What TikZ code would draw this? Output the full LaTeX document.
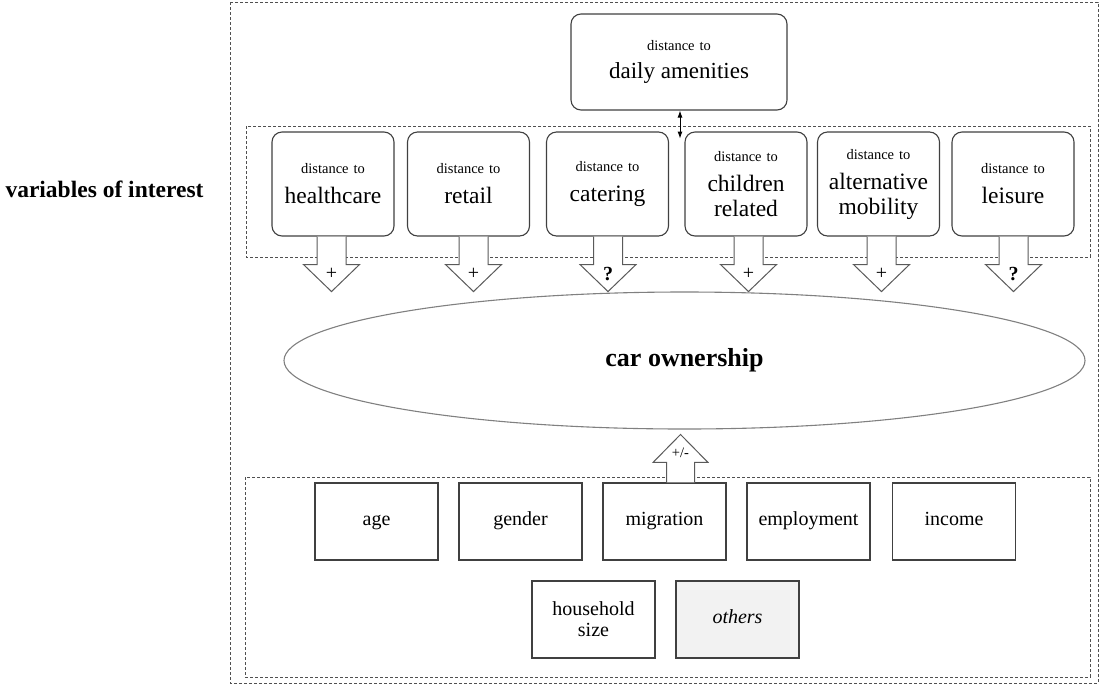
\documentclass[tikz,border=0pt]{standalone}
\usepackage{fontspec}
\setmainfont{Liberation Serif}
\usetikzlibrary{shapes.geometric,arrows.meta,calc}
\definecolor{boxc}{HTML}{404040}
\definecolor{dashc}{HTML}{505050}
\definecolor{arrc}{HTML}{5A5A5A}
\definecolor{ellc}{HTML}{808080}
\definecolor{othfill}{HTML}{F2F2F2}
\newcommand\distto{{\fontsize{14.5}{17}\selectfont distance\hspace{5pt}to}}
\tikzset{
  dashbox/.style={draw=dashc, line width=0.8pt, dash pattern=on 3pt off 2pt},
  topbox/.style={draw=boxc, line width=1.1pt, rounded corners=10pt, minimum width=122pt, minimum height=104pt, inner sep=0pt, align=center, fill=white, font=\fontsize{23.5}{25}\selectfont},
  topbig/.style={draw=boxc, line width=1.1pt, rounded corners=10pt, minimum width=216pt, minimum height=96pt, inner sep=0pt, align=center, fill=white, font=\fontsize{23}{25}\selectfont},
  botbox/.style={draw=boxc, line width=1.1pt, minimum width=123pt, minimum height=77pt, inner sep=0pt, align=center, font=\fontsize{20}{21}\selectfont},
  arrline/.style={draw=arrc, line width=1pt, fill=white, line join=miter},
  signlab/.style={inner sep=0pt, font=\fontsize{20}{20}\selectfont},
  downarr/.pic={
    \path[arrline] (-14.5,0) -- (-14.5,28) -- (-28,28) -- (0,55) -- (28,28) -- (14.5,28) -- (14.5,0);
    \node[signlab] at (0,37) {#1};
  },
  uparr/.pic={
    \path[arrline] (-14,0) -- (-14,-20) -- (-27.5,-20) -- (0,-48) -- (27.5,-20) -- (14,-20) -- (14,0);
    \node[inner sep=0pt, font=\fontsize{14.5}{15}\selectfont] at (0,-30) {#1};
  }
}
\begin{document}
\begin{tikzpicture}[x=1pt,y=-1pt]
\useasboundingbox (0,0) rectangle (1102,686);
% dashed frames
\draw[dashbox] (230,2) rectangle (1098,683);
\draw[dashbox] (246,126) rectangle (1090,257);
\draw[dashbox] (245,477) rectangle (1090,677);
% side label
\node[inner sep=0pt, font=\fontsize{23.5}{25}\selectfont\bfseries] (voi) at (104.5,189) {variables of interest};
% top big box
\node[topbig] (da) at (679,62) {\distto\\[3pt]daily amenities};
\coordinate (daend) at ($(da.south)+(1,28)$);
\draw[{Latex[length=7pt,width=5pt]}-{Latex[length=7pt,width=5pt]}, line width=0.9pt] ($(da.south)+(1,0)$) -- (daend);
% top boxes
\node[topbox] (hc) at (333,184) {\distto\\[5pt]healthcare};
\node[topbox] (rt) at (468.5,184) {\distto\\[5pt]retail};
\node[topbox] (ct) at (607.5,184) {\distto\\[5pt]catering};
\node[topbox] (ch) at (746,184) {\distto\\[5pt]children\\related};
\node[topbox] (am) at (878.5,184) {\distto\\[5pt]alternative\\mobility};
\node[topbox] (ls) at (1013,184) {\distto\\[5pt]leisure};
% down block arrows
\pic at ($(hc.south)+(-1.5,0)$) {downarr=+};
\pic at ($(rt.south)+(5,0)$) {downarr=+};
\pic at ($(ct.south)+(0.5,0)$) {downarr={\bfseries ?}};
\pic at ($(ch.south)+(2.5,0)$) {downarr=+};
\pic at ($(am.south)+(3,0)$) {downarr=+};
\pic at ($(ls.south)+(0.5,0)$) {downarr={\bfseries ?}};
% ellipse
\node[ellipse, draw=ellc, line width=1.1pt, minimum width=801pt, minimum height=137pt, inner sep=0pt, font=\fontsize{26}{28}\selectfont\bfseries] (car) at (684.5,360.5) {car ownership};
% bottom boxes
\node[botbox] (age) at (376.5,521.5) {\strut age};
\node[botbox] (gen) at (520.5,521.5) {\strut gender};
\node[botbox] (mig) at (664.5,521.5) {\strut migration};
\node[botbox] (emp) at (808.5,521.5) {\strut employment};
\node[botbox] (inc) at (954,521.5) {\strut income};
\node[botbox] (hh) at (593.5,619.5) {household\\size};
\node[botbox, fill=othfill, font=\fontsize{20}{21}\selectfont\itshape] (oth) at (737.5,619.5) {\strut others};
% up block arrow
\pic at ($(mig.north)+(16,0)$) {uparr=+/-};
\end{tikzpicture}
\end{document}
